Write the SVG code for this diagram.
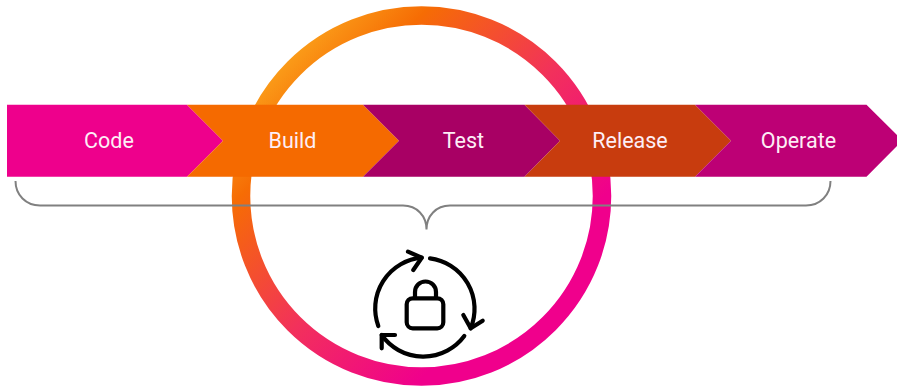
<svg xmlns="http://www.w3.org/2000/svg" width="897" height="387" viewBox="0 0 897 387">
<style>
.lbl{font-family:Roboto,"Liberation Sans",sans-serif;font-size:21.500px;fill:#fdeef6;text-anchor:middle}
.ic{fill:none;stroke:#000;stroke-width:4.200;stroke-linecap:round;stroke-linejoin:round}
</style>
<defs>
<linearGradient id="ring" gradientUnits="userSpaceOnUse" x1="170" y1="170" x2="400" y2="400">
<stop offset="0" stop-color="#fb9f1a"/>
<stop offset="0.21" stop-color="#f66c04"/>
<stop offset="0.62" stop-color="#f2305c"/>
<stop offset="1" stop-color="#f0008c"/>
</linearGradient>
</defs>
<rect width="897" height="387" fill="#fff"/>
<g id="cycle-ring"><circle cx="421.500" cy="196" r="180.500" fill="none" stroke="url(#ring)" stroke-width="18.500"/></g>
<g id="code"><polygon points="7,104.700 187,104.700 223,140.700 187,176.700 7,176.700" fill="#ee008c"/><text class="lbl" x="109" y="148">Code</text></g>
<g id="build"><polygon points="187,104.700 363,104.700 399,140.700 363,176.700 187,176.700 223,140.700" fill="#f56a00"/><text class="lbl" x="292.500" y="148">Build</text></g>
<g id="test"><polygon points="363,104.700 524.500,104.700 560,140.700 524.500,176.700 363,176.700 399,140.700" fill="#a80064"/><text class="lbl" x="463.500" y="148">Test</text></g>
<g id="release"><polygon points="524.500,104.700 695,104.700 731,140.700 695,176.700 524.500,176.700 560,140.700" fill="#c83c0e"/><text class="lbl" x="630" y="148">Release</text></g>
<g id="operate"><polygon points="695,104.700 866.500,104.700 897,135 897,146 866.500,176.700 695,176.700 731,140.700" fill="#bd0075"/><text class="lbl" x="798.500" y="148">Operate</text></g>
<g id="connectors"><path d="M15.500 181C15.500 195 26 205.500 40 205.500H403C417 205.500 426.500 216 426.500 229.500C426.500 216 436 205.500 450 205.500H806C820 205.500 830.500 195 830.500 181" fill="none" stroke="#808080" stroke-width="2"/></g>
<g id="lock-icon" class="ic">
<path d="M378.300 326A51 51 0 0 1 421.700 257.700"/>
<path d="M408 251.700L421.700 257.700L413.300 270"/>
<path d="M430 258.300A51 51 0 0 1 470.700 328.300"/>
<path d="M463.300 315L470.700 328.300L482.700 320.700"/>
<path d="M464.300 336A51 51 0 0 1 381.700 335"/>
<path d="M395 335L381.700 335L381.700 348.300"/>
<rect x="406.700" y="298.300" width="36.600" height="30" rx="6"/>
<path d="M415 298V292A10.500 10.500 0 0 1 436 292V298"/>
</g>
</svg>
